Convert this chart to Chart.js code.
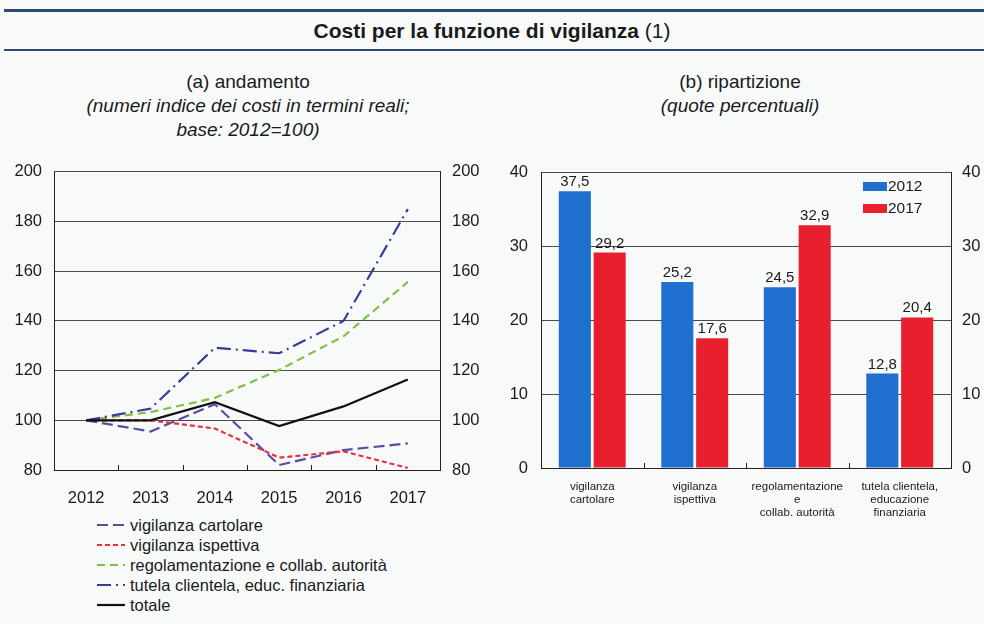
<!DOCTYPE html>
<html lang="it">
<head>
<meta charset="utf-8">
<title>Costi per la funzione di vigilanza</title>
<script src="https://cdn.jsdelivr.net/npm/chart.js@4.4.1/dist/chart.umd.min.js"></script>
<style>
    html, body { margin: 0; padding: 0; }
    body {
        width: 984px;
        height: 624px;
        position: relative;
        overflow: hidden;
        background: #f8fafa;
        font-family: "Liberation Sans", Arial, sans-serif;
        color: #1a1a1a;
    }
    .rule { position: absolute; left: 4px; right: 0; background: #2c4a72; }
    .rule.top { top: 9px; height: 3px; }
    .rule.bottom { top: 49px; height: 2px; }
    .title {
        position: absolute; left: 0; width: 984px; top: 19px;
        text-align: center; font-size: 21px; line-height: 24px;
    }
    .title b { font-weight: bold; }
    .subtitle {
        position: absolute; top: 70px; text-align: center;
        font-size: 19px; line-height: 24px;
    }
    .subtitle i { font-style: italic; }
    canvas { position: absolute; }
    #lineLegend {
        position: absolute; left: 97px; top: 515px;
        font-size: 16.5px; line-height: 20px;
    }
    #lineLegend div { display: flex; align-items: center; height: 20px; }
    #lineLegend svg { margin-right: 5px; }
    #barLegend {
        position: absolute; left: 863px; top: 175px;
        font-size: 15.5px; line-height: 22px;
    }
    #barLegend div { display: flex; align-items: center; height: 22px; }
    #barLegend span.box { display: inline-block; width: 24px; height: 9px; margin-right: 1px; }
</style>
</head>
<body>
<div class="rule top"></div>
<div class="title"><b>Costi per la funzione di vigilanza</b> (1)</div>
<div class="rule bottom"></div>

<div class="subtitle" style="left: 48px; width: 400px;">(a) andamento<br><i>(numeri indice dei costi in termini reali;<br>base: 2012=100)</i></div>
<div class="subtitle" style="left: 560px; width: 360px;">(b) ripartizione<br><i>(quote percentuali)</i></div>

<canvas id="trendChart" width="480" height="360" style="left: 0; top: 150px;"></canvas>
<canvas id="shareChart" width="504" height="380" style="left: 480px; top: 150px;"></canvas>
<div id="lineLegend"></div>
<div id="barLegend"></div>

<script>
// (a) andamento - index numbers, 2012 = 100
const years = ['2012', '2013', '2014', '2015', '2016', '2017'];
const vigilanzaCartolare = [100, 95.5, 106.5, 82, 88, 90.7];
const vigilanzaIspettiva = [100, 100, 96.7, 85, 87.5, 80.8];
const regolamentazione = [100, 103.3, 109, 120.3, 133.8, 155.7];
const tutelaClientela = [100, 104.7, 129.2, 127, 140, 185];
const totale = [100, 100, 107.3, 97.7, 105.6, 116.4];
const trendTicks = [80, 100, 120, 140, 160, 180, 200];

// (b) ripartizione - percentage shares
const areas = [
    ['vigilanza', 'cartolare'],
    ['vigilanza', 'ispettiva'],
    ['regolamentazione', 'e', 'collab. autorità'],
    ['tutela clientela,', 'educazione', 'finanziaria']
];
const share2012 = [37.5, 25.2, 24.5, 12.8];
const share2017 = [29.2, 17.6, 32.9, 20.4];
const shareTicks = [0, 10, 20, 30, 40];

const FONT = '"Liberation Sans", Arial, sans-serif';
const GRID = '#4a4a4a';
const AXIS = '#222';

const lineSeries = [
    { label: 'vigilanza cartolare', data: vigilanzaCartolare, color: '#5b4ba6', dash: [11, 5] },
    { label: 'vigilanza ispettiva', data: vigilanzaIspettiva, color: '#e8303f', dash: [5, 3] },
    { label: 'regolamentazione e collab. autorità', data: regolamentazione, color: '#7cc143', dash: [8, 5] },
    { label: 'tutela clientela, educ. finanziaria', data: tutelaClientela, color: '#3a3c96', dash: [14, 5, 2, 5] },
    { label: 'totale', data: totale, color: '#111111', dash: [] }
];

// small tick marks at category boundaries, pointing up from the x axis
const boundaryTicks = {
    id: 'boundaryTicks',
    afterDraw(chart) {
        const x = chart.scales.x;
        const ctx = chart.ctx;
        const bottom = chart.chartArea.bottom;
        ctx.save();
        ctx.strokeStyle = AXIS;
        ctx.lineWidth = 1;
        for (let i = 1; i < x.ticks.length; i++) {
            const px = Math.round((x.getPixelForTick(i - 1) + x.getPixelForTick(i)) / 2) + 0.5;
            ctx.beginPath();
            ctx.moveTo(px, bottom);
            ctx.lineTo(px, bottom - 5);
            ctx.stroke();
        }
        ctx.restore();
    }
};

// value labels above the bars, Italian decimal comma
const barValues = {
    id: 'barValues',
    afterDatasetsDraw(chart) {
        const ctx = chart.ctx;
        ctx.save();
        ctx.font = '15px ' + FONT;
        ctx.fillStyle = '#1a1a1a';
        ctx.textAlign = 'center';
        ctx.textBaseline = 'alphabetic';
        chart.data.datasets.forEach((ds, di) => {
            chart.getDatasetMeta(di).data.forEach((bar, i) => {
                const txt = ds.data[i].toFixed(1).replace('.', ',');
                ctx.fillText(txt, bar.x, bar.y - 5);
            });
        });
        ctx.restore();
    }
};

function yScale(ticks, side, width, pad) {
    return {
        type: 'linear',
        position: side,
        min: ticks[0],
        max: ticks[ticks.length - 1],
        afterBuildTicks: (scale) => { scale.ticks = ticks.map(v => ({ value: v })); },
        afterFit: (scale) => { scale.width = width; },
        ticks: { color: '#1a1a1a', padding: pad, font: { family: FONT, size: 16.5 } },
        grid: side === 'left'
            ? { color: GRID, lineWidth: 1, drawTicks: false }
            : { drawOnChartArea: false, drawTicks: false },
        border: { display: true, color: AXIS, width: 1 }
    };
}

function renderTrend() {
    const ctx = document.getElementById('trendChart').getContext('2d');
    new Chart(ctx, {
        type: 'line',
        data: {
            labels: years,
            datasets: lineSeries.map(s => ({
                label: s.label,
                data: s.data,
                borderColor: s.color,
                borderDash: s.dash,
                borderWidth: 2.2,
                pointRadius: 0,
                tension: 0,
                fill: false
            })).reverse()
        },
        options: {
            responsive: false,
            devicePixelRatio: 1,
            animation: false,
            layout: { padding: { top: 20, left: 0, right: 0, bottom: 0 } },
            plugins: { legend: { display: false }, tooltip: { enabled: false } },
            scales: {
                x: {
                    offset: true,
                    afterFit: (scale) => { scale.height = 40; },
                    ticks: { color: '#1a1a1a', padding: 11, font: { family: FONT, size: 16.5 } },
                    grid: { display: false },
                    border: { display: true, color: AXIS, width: 1 }
                },
                y: yScale(trendTicks, 'left', 54, 12),
                y2: yScale(trendTicks, 'right', 40, 12)
            }
        },
        plugins: [boundaryTicks]
    });
}

function renderShares() {
    const ctx = document.getElementById('shareChart').getContext('2d');
    new Chart(ctx, {
        type: 'bar',
        data: {
            labels: areas,
            datasets: [
                { label: '2012', data: share2012, backgroundColor: '#1f6fcf' },
                { label: '2017', data: share2017, backgroundColor: '#e8202e' }
            ]
        },
        options: {
            responsive: false,
            devicePixelRatio: 1,
            animation: false,
            layout: { padding: { top: 18, left: 0, right: 0, bottom: 0 } },
            categoryPercentage: 0.68,
            barPercentage: 0.92,
            plugins: { legend: { display: false }, tooltip: { enabled: false } },
            scales: {
                x: {
                    afterFit: (scale) => { scale.height = 62; },
                    ticks: {
                        color: '#1a1a1a', padding: 4, maxRotation: 0, autoSkip: false,
                        font: { family: FONT, size: 11.5, lineHeight: 1.15 }
                    },
                    grid: { display: false },
                    border: { display: true, color: AXIS, width: 1 }
                },
                y: yScale(shareTicks, 'left', 61, 13),
                y2: yScale(shareTicks, 'right', 33, 11)
            }
        },
        plugins: [boundaryTicks, barValues]
    });

    document.getElementById('barLegend').innerHTML = [
        ['#1f6fcf', '2012'], ['#e8202e', '2017']
    ].map(([c, t]) => `<div><span class="box" style="background:${c}"></span>${t}</div>`).join('');
}

function renderLineLegend() {
    document.getElementById('lineLegend').innerHTML = lineSeries.map(s =>
        `<div><svg width="28" height="6"><line x1="0" y1="3" x2="28" y2="3" stroke="${s.color}" stroke-width="2.2" stroke-dasharray="${s.dash.join(' ') || 'none'}"/></svg>${s.label}</div>`
    ).join('');
}

document.addEventListener('DOMContentLoaded', () => {
    renderTrend();
    renderShares();
    renderLineLegend();
});
</script>
</body>
</html>
